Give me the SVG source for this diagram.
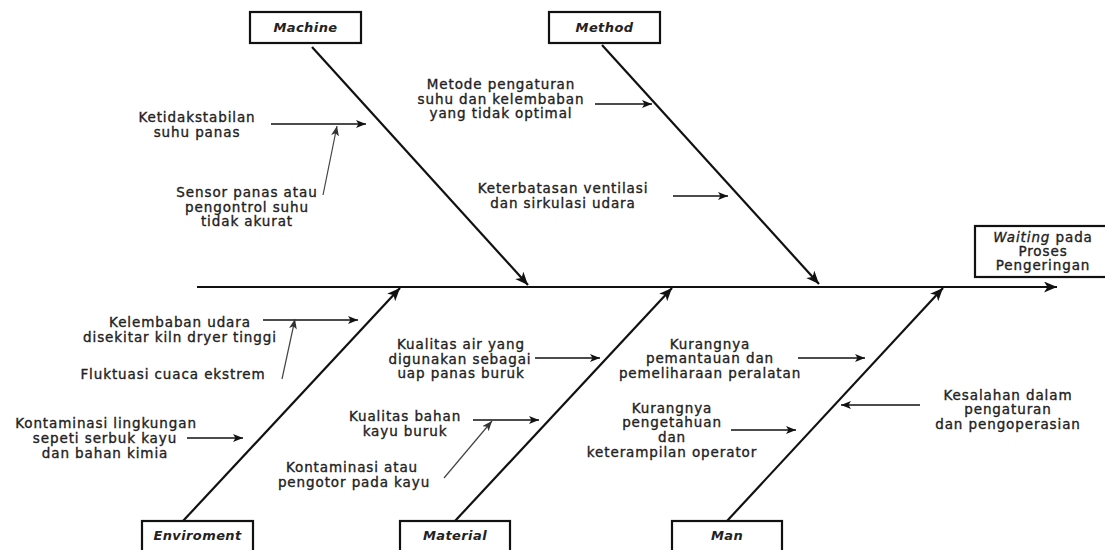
<svg xmlns="http://www.w3.org/2000/svg" width="1105" height="550" viewBox="0 0 1105 550">
<defs>
<marker id="big" markerUnits="userSpaceOnUse" markerWidth="14" markerHeight="12" refX="13" refY="5.5" orient="auto">
<path d="M0,0 L13,5.5 L0,11 L3.5,5.5 z" fill="#111"/>
</marker>
<marker id="small" markerUnits="userSpaceOnUse" markerWidth="11" markerHeight="9" refX="10" refY="4" orient="auto">
<path d="M0,0 L10,4 L0,8 L2.5,4 z" fill="#111"/>
</marker>
<marker id="grey" markerUnits="userSpaceOnUse" markerWidth="11" markerHeight="9" refX="10" refY="4" orient="auto">
<path d="M0,0 L10,4 L0,8 L2.5,4 z" fill="#333"/>
</marker>
</defs>
<style>
.box{fill:#fff;stroke:#111;stroke-width:2.2}
.lbl{font-family:"DejaVu Sans","Liberation Sans",sans-serif;font-size:13px;font-style:italic;font-weight:bold;fill:#222;text-anchor:middle;letter-spacing:0.4px}
.t{font-family:"DejaVu Sans","Liberation Sans",sans-serif;font-size:13.5px;fill:#222;stroke:#222;stroke-width:0.35px;text-anchor:middle;letter-spacing:0.9px}
.bone{stroke:#111;stroke-width:2.2;fill:none;marker-end:url(#big)}
.sub{stroke:#111;stroke-width:1.3;fill:none;marker-end:url(#small)}
.sub2{stroke:#444;stroke-width:1.2;fill:none;marker-end:url(#grey)}
</style>
<rect width="1105" height="550" fill="#fff"/>
<g id="connectors">
<path class="bone" d="M197,287 H1057"/>
<path class="bone" d="M312,47 L528,285"/>
<path class="bone" d="M602,45 L819,284"/>
<path class="bone" d="M183,521 L400,288"/>
<path class="bone" d="M455,521 L672,288"/>
<path class="bone" d="M727,521 L943,288"/>
<path class="sub" d="M271,124 H366"/>
<path class="sub2" d="M323,195 L337,126"/>
<path class="sub" d="M595,104 H652"/>
<path class="sub" d="M673,196 H728"/>
<path class="sub" d="M263,320 H358"/>
<path class="sub2" d="M282,379 L295,319"/>
<path class="sub" d="M187,438 H243"/>
<path class="sub" d="M535,358 H600"/>
<path class="sub" d="M473,420 H539"/>
<path class="sub2" d="M444,478 L492,421"/>
<path class="sub" d="M798,358 H865"/>
<path class="sub" d="M731,430 H796"/>
<path class="sub" d="M920,405 H841"/>
</g>
<g id="machine"><rect class="box" x="250" y="12" width="111" height="31"/><text class="lbl" x="305.5" y="32">Machine</text></g>
<g id="method"><rect class="box" x="549" y="12" width="111" height="31"/><text class="lbl" x="604.5" y="32">Method</text></g>
<g id="enviroment"><rect class="box" x="142" y="521" width="111" height="40"/><text class="lbl" x="197.5" y="540">Enviroment</text></g>
<g id="material"><rect class="box" x="400" y="521" width="110" height="40"/><text class="lbl" x="455" y="540">Material</text></g>
<g id="man"><rect class="box" x="672" y="521" width="110" height="40"/><text class="lbl" x="727" y="540">Man</text></g>
<g id="effect"><rect class="box" x="975" y="226" width="140" height="51"/>
<text class="t" x="1043" y="242"><tspan font-style="italic">Waiting</tspan> pada</text>
<text class="t" x="1043" y="256">Proses</text>
<text class="t" x="1043" y="270">Pengeringan</text></g>
<g id="c-ketidakstabilan"><text class="t" x="197" y="121.5">Ketidakstabilan</text><text class="t" x="197" y="136.5">suhu panas</text></g>
<g id="c-sensor"><text class="t" x="247" y="197">Sensor panas atau</text><text class="t" x="247" y="211.5">pengontrol suhu</text><text class="t" x="247" y="226">tidak akurat</text></g>
<g id="c-metode"><text class="t" x="501" y="89">Metode pengaturan</text><text class="t" x="501" y="103.5">suhu dan kelembaban</text><text class="t" x="501" y="118">yang tidak optimal</text></g>
<g id="c-ventilasi"><text class="t" x="563" y="193">Keterbatasan ventilasi</text><text class="t" x="563" y="208">dan sirkulasi udara</text></g>
<g id="c-kelembaban"><text class="t" x="180" y="327">Kelembaban udara</text><text class="t" x="180" y="342">disekitar kiln dryer tinggi</text></g>
<g id="c-fluktuasi"><text class="t" x="173" y="379">Fluktuasi cuaca ekstrem</text></g>
<g id="c-kontaminasi-lingkungan"><text class="t" x="106" y="428">Kontaminasi lingkungan</text><text class="t" x="105" y="443">sepeti serbuk kayu</text><text class="t" x="105" y="458">dan bahan kimia</text></g>
<g id="c-air"><text class="t" x="461" y="349">Kualitas air yang</text><text class="t" x="460" y="364">digunakan sebagai</text><text class="t" x="461" y="378">uap panas buruk</text></g>
<g id="c-bahan"><text class="t" x="405" y="421">Kualitas bahan</text><text class="t" x="405" y="436">kayu buruk</text></g>
<g id="c-pengotor"><text class="t" x="352" y="472">Kontaminasi atau</text><text class="t" x="354" y="487">pengotor pada kayu</text></g>
<g id="c-pemantauan"><text class="t" x="710" y="349">Kurangnya</text><text class="t" x="710" y="363">pemantauan dan</text><text class="t" x="710" y="378">pemeliharaan peralatan</text></g>
<g id="c-pengetahuan"><text class="t" x="672" y="413">Kurangnya</text><text class="t" x="672" y="427">pengetahuan</text><text class="t" x="672" y="442">dan</text><text class="t" x="672" y="457">keterampilan operator</text></g>
<g id="c-kesalahan"><text class="t" x="1008" y="400">Kesalahan dalam</text><text class="t" x="1008" y="414">pengaturan</text><text class="t" x="1008" y="429">dan pengoperasian</text></g>
</svg>
